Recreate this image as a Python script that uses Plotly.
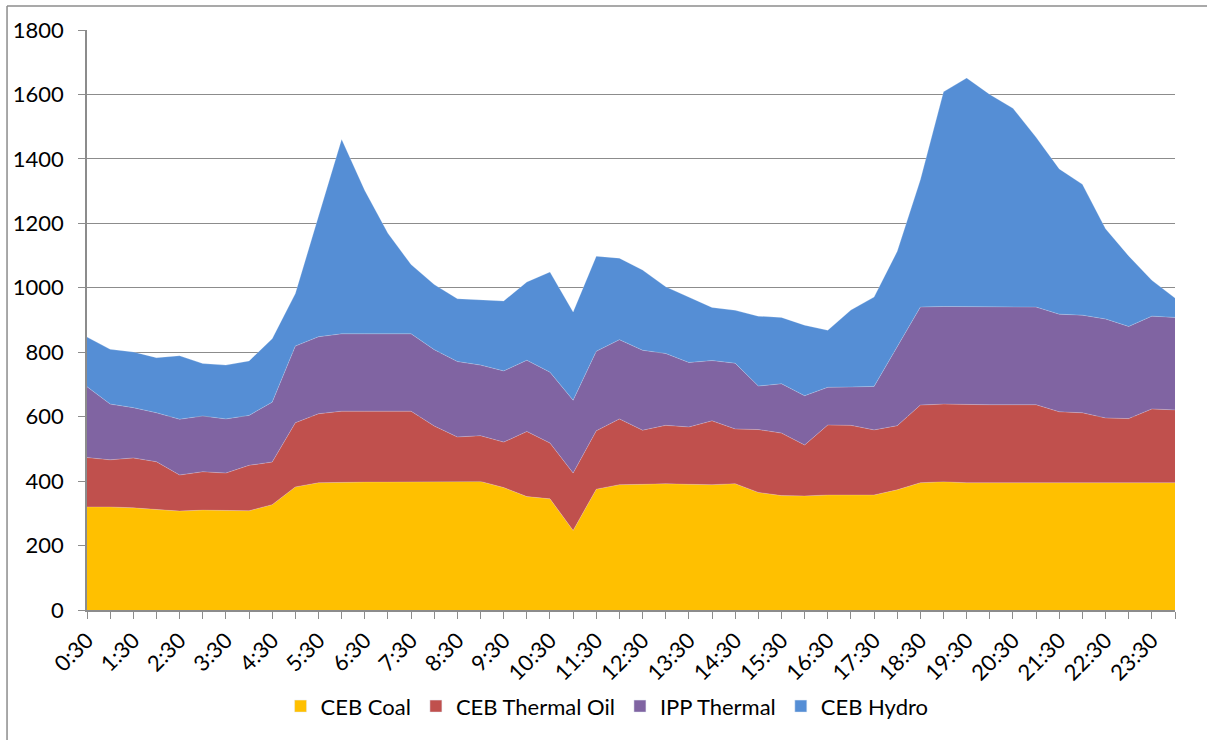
import plotly.graph_objects as go

times = ["0:30", "1:00", "1:30", "2:00", "2:30", "3:00", "3:30", "4:00", "4:30", "5:00",
         "5:30", "6:00", "6:30", "7:00", "7:30", "8:00", "8:30", "9:00", "9:30", "10:00",
         "10:30", "11:00", "11:30", "12:00", "12:30", "13:00", "13:30", "14:00", "14:30", "15:00",
         "15:30", "16:00", "16:30", "17:00", "17:30", "18:00", "18:30", "19:00", "19:30", "20:00",
         "20:30", "21:00", "21:30", "22:00", "22:30", "23:00", "23:30", "0:00"]

ceb_coal = [320, 320, 317, 313, 307, 310, 308, 308, 327, 382,
            395, 397, 397, 397, 397, 397, 397, 399, 380, 352,
            345, 247, 375, 389, 390, 392, 390, 389, 392, 365,
            355, 354, 357, 356, 357, 373, 395, 398, 395, 395,
            395, 395, 395, 395, 395, 395, 395, 395]

ceb_thermal_oil = [153, 146, 155, 147, 112, 119, 117, 141, 132, 199,
                   214, 220, 220, 220, 220, 174, 140, 142, 141, 202,
                   173, 178, 181, 204, 168, 181, 178, 198, 170, 195,
                   194, 158, 217, 217, 202, 199, 241, 241, 242, 242,
                   242, 242, 220, 217, 201, 199, 229, 226]

ipp_thermal = [220, 173, 156, 152, 173, 173, 168, 155, 186, 238,
               239, 240, 240, 240, 240, 237, 234, 219, 221, 221,
               220, 226, 247, 246, 248, 223, 200, 187, 204, 135,
               153, 153, 117, 119, 135, 245, 304, 303, 304, 303,
               303, 303, 303, 303, 307, 286, 288, 287]

ceb_hydro = [154, 170, 173, 171, 197, 163, 167, 169, 197, 163,
             374, 604, 445, 312, 215, 202, 195, 202, 217, 243,
             311, 274, 295, 253, 249, 207, 204, 165, 164, 217,
             206, 219, 177, 239, 277, 296, 395, 666, 710, 660,
             617, 527, 451, 406, 280, 219, 111, 60]

series_names = ["CEB Coal", "CEB Thermal Oil", "IPP Thermal", "CEB Hydro"]
series_values = [ceb_coal, ceb_thermal_oil, ipp_thermal, ceb_hydro]
colors = ["#FFC000", "#C0504D", "#8064A2", "#558ED5"]

y_ticks = list(range(0, 1801, 200))
tick_text = [t if i % 2 == 0 else "" for i, t in enumerate(times)]

fig = go.Figure()
for name, vals, col in zip(series_names, series_values, colors):
    fig.add_trace(go.Scatter(
        x=times, y=vals, name=name, stackgroup="one", mode="lines",
        line=dict(width=0.6, color="rgba(255,255,255,0.35)"),
        fillcolor=col, showlegend=False, legendgroup=name,
    ))
# legend entries with square swatches
for name, col in zip(series_names, colors):
    fig.add_trace(go.Bar(x=[None], y=[None], name=name, marker=dict(color=col),
                         legendgroup=name, showlegend=True))

grid = "#8C8C8C"
fig.update_layout(
    width=1207, height=740,
    margin=dict(l=87, r=32, t=30, b=130),
    paper_bgcolor="white", plot_bgcolor="white",
    font=dict(family="Lato", size=22, color="black"),
    showlegend=True,
    legend=dict(orientation="h", x=0.478, xanchor="center", y=-0.166, yanchor="middle",
                font=dict(size=22), traceorder="normal"),
    xaxis=dict(
        type="category", range=[0, len(times) - 1],
        tickmode="array", tickvals=times, ticktext=tick_text,
        tickangle=-45, showgrid=False, showline=True, linecolor=grid, linewidth=1.5,
        ticks="outside", ticklen=7, tickcolor=grid, tickwidth=1.2,
    ),
    yaxis=dict(
        range=[0, 1800], tickmode="array", tickvals=y_ticks,
        showgrid=True, gridcolor=grid, gridwidth=1.2, zeroline=False,
        showline=True, linecolor=grid, linewidth=1.5,
        ticks="outside", ticklen=7, tickcolor=grid, tickwidth=1.2,
        ticklabelstandoff=10,
    ),
    shapes=[
        dict(type="line", xref="paper", yref="paper", x0=-0.0735, x1=1.2, y0=1.0414, y1=1.0414,
             line=dict(color="#8C8C8C", width=1.5)),
        dict(type="line", xref="paper", yref="paper", x0=-0.0735, x1=-0.0735, y0=1.0414, y1=-0.4,
             line=dict(color="#8C8C8C", width=1.5)),
    ],
)

fig.write_html("out.html", config={"displayModeBar": False},
               post_script="document.body.style.margin='0';document.body.style.overflow='hidden';")
